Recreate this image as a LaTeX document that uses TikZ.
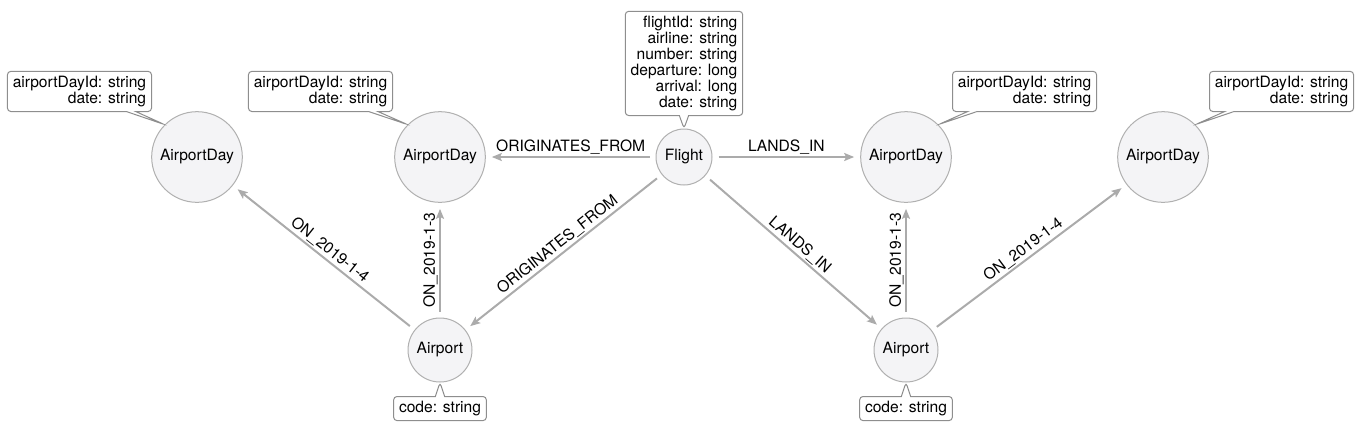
\documentclass[tikz,border=0pt]{standalone}
\usepackage{fontspec}
\setmainfont{TeX Gyre Heros}
\usetikzlibrary{arrows.meta,shapes.callouts}
\definecolor{nodefill}{HTML}{F4F4F6}
\definecolor{nodeline}{HTML}{B0B0B0}
\definecolor{edgeline}{HTML}{ABABAB}
\definecolor{boxline}{HTML}{8E8E8E}

\begin{document}
\begin{tikzpicture}[x=0.75pt, y=0.75pt,
    font=\fontsize{11.7}{12}\selectfont,
    entity/.style={circle, draw=nodeline, fill=nodefill, line width=0.75pt, inner sep=0pt},
    props/.style={rectangle callout, draw=boxline, fill=white, rounded corners=2.5pt,
        align=right, inner xsep=4pt, inner ysep=3.5pt, callout pointer width=7pt, line width=0.75pt},
    rel/.style={-{Stealth[length=7.5pt,width=6pt,inset=1.5pt]}, draw=edgeline, line width=1.5pt,
        shorten <=4.5pt, shorten >=4.5pt},
    lbl/.style={midway, sloped, above, inner sep=1pt}]
    \useasboundingbox (0,0) rectangle (1364,-430);

    % Nodes
    \node[entity, minimum size=42pt] (flight) at (684,-157) {Flight};
    \node[entity, minimum size=68pt] (day1) at (197,-157) {AirportDay};
    \node[entity, minimum size=68pt] (day2) at (440,-157) {AirportDay};
    \node[entity, minimum size=68pt] (day3) at (906,-157) {AirportDay};
    \node[entity, minimum size=68pt] (day4) at (1163,-157) {AirportDay};
    \node[entity, minimum size=48pt] (airportL) at (440,-350) {Airport};
    \node[entity, minimum size=48pt] (airportR) at (906,-350) {Airport};

    % Property boxes
    \node[props, anchor=south, callout absolute pointer={(flight.north)}] (flightprops) at (684,-116)
        {flightId: string\\airline: string\\number: string\\departure: long\\arrival: long\\date: string};
    \node[props, anchor=south east, callout absolute pointer={(day1.135)}] (day1props) at (152,-112)
        {airportDayId: string\\date: string};
    \node[props, anchor=south east, callout absolute pointer={(day2.135)}] (day2props) at (393,-112)
        {airportDayId: string\\date: string};
    \node[props, anchor=south west, callout absolute pointer={(day3.45)}] (day3props) at (952,-112)
        {airportDayId: string\\date: string};
    \node[props, anchor=south west, callout absolute pointer={(day4.45)}] (day4props) at (1209,-112)
        {airportDayId: string\\date: string};
    \node[props, anchor=north, callout absolute pointer={(airportL.south)}] (airportLprops) at (440,-396)
        {code: string};
    \node[props, anchor=north, callout absolute pointer={(airportR.south)}] (airportRprops) at (906,-396)
        {code: string};

    % Edges
    \draw[rel] (flight) -- node[lbl] {ORIGINATES\_FROM} (day2);
    \draw[rel] (flight) -- node[lbl] {LANDS\_IN} (day3);
    \draw[rel] (flight) -- node[lbl] {ORIGINATES\_FROM} (airportL);
    \draw[rel] (flight) -- node[lbl] {LANDS\_IN} (airportR);
    \draw[rel] (airportL) -- node[lbl] {ON\_2019-1-4} (day1);
    \draw[rel] (airportL) -- node[lbl] {ON\_2019-1-3} (day2);
    \draw[rel] (airportR) -- node[lbl] {ON\_2019-1-3} (day3);
    \draw[rel] (airportR) -- node[lbl] {ON\_2019-1-4} (day4);
\end{tikzpicture}
\end{document}
